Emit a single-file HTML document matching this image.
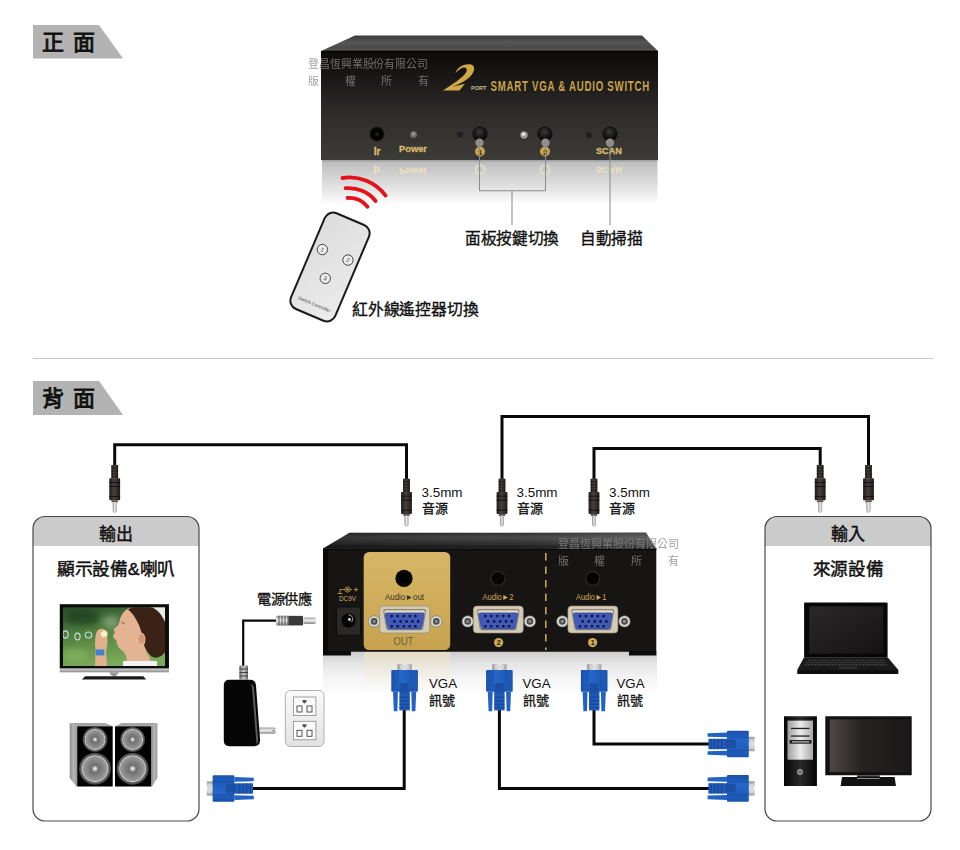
<!DOCTYPE html>
<html lang="zh-TW">
<head>
<meta charset="utf-8">
<style>
html,body{margin:0;padding:0;background:#fff;}
body{width:960px;height:850px;position:relative;overflow:hidden;font-family:"Liberation Sans",sans-serif;}
svg{position:absolute;left:0;top:0;}
text{font-family:"Liberation Sans",sans-serif;}
</style>
</head>
<body>
<svg width="960" height="850" viewBox="0 0 960 850">
<defs>
  <linearGradient id="frontFace" x1="0" y1="0" x2="0" y2="1">
    <stop offset="0" stop-color="#0c0b0a"/>
    <stop offset="0.3" stop-color="#1c1b19"/>
    <stop offset="0.6" stop-color="#2f2e2b"/>
    <stop offset="1" stop-color="#3c3b37"/>
  </linearGradient>
  <linearGradient id="reflectR" x1="0" y1="0" x2="0" y2="1">
    <stop offset="0" stop-color="#cdcdcd"/>
    <stop offset="0.25" stop-color="#e4e4e4"/>
    <stop offset="0.6" stop-color="#f5f5f5"/>
    <stop offset="1" stop-color="#ffffff"/>
  </linearGradient>
  <linearGradient id="topSurf" x1="0" y1="0" x2="0" y2="1">
    <stop offset="0" stop-color="#3a3a3a"/>
    <stop offset="0.45" stop-color="#565656"/>
    <stop offset="0.8" stop-color="#4a4a4a"/>
    <stop offset="0.9" stop-color="#545454"/>
    <stop offset="1" stop-color="#2a2a2a"/>
  </linearGradient>
  <linearGradient id="reflect" x1="0" y1="0" x2="0" y2="1">
    <stop offset="0" stop-color="#9a9a9a"/>
    <stop offset="0.06" stop-color="#c0c0c0"/>
    <stop offset="0.45" stop-color="#d8d8d8"/>
    <stop offset="0.8" stop-color="#f0f0f0"/>
    <stop offset="1" stop-color="#ffffff"/>
  </linearGradient>
  <linearGradient id="reflectEdge" x1="0" y1="0" x2="1" y2="0">
    <stop offset="0" stop-color="#fff" stop-opacity="1"/>
    <stop offset="0.06" stop-color="#fff" stop-opacity="0"/>
    <stop offset="0.94" stop-color="#fff" stop-opacity="0"/>
    <stop offset="1" stop-color="#fff" stop-opacity="1"/>
  </linearGradient>
  <linearGradient id="gold" x1="0" y1="0" x2="0" y2="1">
    <stop offset="0" stop-color="#d6b666"/>
    <stop offset="0.5" stop-color="#cfad5a"/>
    <stop offset="1" stop-color="#c6a250"/>
  </linearGradient>
  <linearGradient id="remoteFill" x1="0" y1="0" x2="1" y2="1">
    <stop offset="0" stop-color="#dcdcdc"/>
    <stop offset="1" stop-color="#ececec"/>
  </linearGradient>
  <linearGradient id="plugBody" x1="0" y1="0" x2="1" y2="0">
    <stop offset="0" stop-color="#1e1a19"/>
    <stop offset="0.45" stop-color="#4a403d"/>
    <stop offset="1" stop-color="#1e1a19"/>
  </linearGradient>
  <linearGradient id="plugTip" x1="0" y1="0" x2="1" y2="0">
    <stop offset="0" stop-color="#8a8a8a"/>
    <stop offset="0.5" stop-color="#f0f0f0"/>
    <stop offset="1" stop-color="#9a9a9a"/>
  </linearGradient>
  <linearGradient id="vgaBlue" x1="0" y1="0" x2="1" y2="0">
    <stop offset="0" stop-color="#1a4fa6"/>
    <stop offset="0.35" stop-color="#2466c8"/>
    <stop offset="1" stop-color="#1b55b0"/>
  </linearGradient>
  <linearGradient id="silver" x1="0" y1="0" x2="1" y2="0">
    <stop offset="0" stop-color="#9a9a9a"/>
    <stop offset="0.5" stop-color="#eeeeee"/>
    <stop offset="1" stop-color="#a0a0a0"/>
  </linearGradient>
  <radialGradient id="screw" cx="0.4" cy="0.4" r="0.6">
    <stop offset="0" stop-color="#f4f4f4"/>
    <stop offset="0.7" stop-color="#cfcfcf"/>
    <stop offset="1" stop-color="#8a8a8a"/>
  </radialGradient>

  <!-- 3.5mm audio plug, origin at center top of ribbed part -->
  <g id="aplug">
    <rect x="-3.4" y="0" width="6.8" height="13.5" fill="url(#plugBody)"/>
    <g stroke="#161212" stroke-width="0.6">
      <line x1="-3.4" y1="3" x2="3.4" y2="3"/>
      <line x1="-3.4" y1="6" x2="3.4" y2="6"/>
      <line x1="-3.4" y1="9" x2="3.4" y2="9"/>
      <line x1="-3.4" y1="12" x2="3.4" y2="12"/>
    </g>
    <rect x="-5.4" y="13.3" width="10.8" height="22" rx="0.8" fill="url(#plugBody)"/>
    <g stroke="#141010" stroke-width="0.9">
      <line x1="-5.4" y1="17.5" x2="5.4" y2="17.5"/>
      <line x1="-5.4" y1="21.5" x2="5.4" y2="21.5"/>
      <line x1="-5.4" y1="31.5" x2="5.4" y2="31.5"/>
    </g>
    <rect x="-3.2" y="35.2" width="6.4" height="2" fill="#555"/>
    <rect x="-2" y="37" width="4" height="9.5" fill="url(#plugTip)"/>
    <path d="M -2,46.5 L 0,48 L 2,46.5 Z" fill="#aaa"/>
  </g>

  <!-- VGA plug, origin at center top (silver end), extends down 47 -->
  <g id="vplug">
    <rect x="-7.2" y="0" width="14.4" height="6.5" fill="url(#silver)"/>
    <rect x="-4.5" y="1.5" width="9" height="3" fill="#d8d8d8"/>
    <rect x="-13.3" y="5.8" width="26.6" height="21.8" rx="1" fill="url(#vgaBlue)"/>
    <path d="M -11.6,27.6 L -6.7,27.6 L -7.2,47 L -10.8,47 Z" fill="#2063c4"/>
    <path d="M 6.7,27.6 L 11.6,27.6 L 10.8,47 L 7.2,47 Z" fill="#2063c4"/>
    <rect x="-5.2" y="19.8" width="10.4" height="26.4" fill="#1f5ab8"/>
    <rect x="-4" y="19" width="8" height="10" fill="#1a4c9e" opacity="0.8"/>
    <g stroke="#17428c" stroke-width="0.9">
      <line x1="-5.2" y1="33" x2="5.2" y2="33"/>
      <line x1="-5.2" y1="36.5" x2="5.2" y2="36.5"/>
      <line x1="-5.2" y1="40" x2="5.2" y2="40"/>
      <line x1="-5.2" y1="43.5" x2="5.2" y2="43.5"/>
    </g>
    <line x1="-6.6" y1="6" x2="-6.6" y2="27.5" stroke="#1a4b9c" stroke-width="0.6"/>
    <line x1="6.6" y1="6" x2="6.6" y2="27.5" stroke="#1a4b9c" stroke-width="0.6"/>
  </g>

  <!-- VGA port on device, origin at center -->
  <g id="vport">
    <circle cx="-30.5" cy="0.9" r="5.7" fill="#d6d6d6" stroke="#6a6a6a" stroke-width="0.6"/>
    <circle cx="-30.5" cy="0.9" r="3.3" fill="#4a4a4a"/>
    <circle cx="-30.5" cy="0.9" r="1.6" fill="#8a8a8a"/>
    <circle cx="31.7" cy="0.9" r="5.7" fill="#d6d6d6" stroke="#6a6a6a" stroke-width="0.6"/>
    <circle cx="31.7" cy="0.9" r="3.3" fill="#4a4a4a"/>
    <circle cx="31.7" cy="0.9" r="1.6" fill="#8a8a8a"/>
    <rect x="-24.9" y="-14.5" width="50" height="27" rx="3.5" fill="#d3cbb5" stroke="#8e8672" stroke-width="0.6"/>
    <path d="M -19.5,-11.5 L 19.5,-11.5 Q 21.8,-11.5 21.3,-9 L 18.6,7.5 Q 18.2,9.8 16,9.8 L -16,9.8 Q -18.2,9.8 -18.6,7.5 L -21.3,-9 Q -21.8,-11.5 -19.5,-11.5 Z" fill="#8c8470"/>
    <path d="M -18.8,-10.3 L 18.8,-10.3 Q 20.6,-10.3 20.2,-8.3 L 17.8,7 Q 17.4,8.8 15.6,8.8 L -15.6,8.8 Q -17.4,8.8 -17.8,7 L -20.2,-8.3 Q -20.6,-10.3 -18.8,-10.3 Z" fill="#e0d9c6"/>
    <path d="M -17.8,-7.6 L 18.2,-7.6 Q 20,-7.6 19.6,-5.8 L 17.4,6.8 Q 17,8.6 15.2,8.6 L -15,8.6 Q -16.8,8.6 -17.2,6.8 L -19.6,-5.8 Q -20,-7.6 -17.8,-7.6 Z" fill="#4159b9" stroke="#2c3d88" stroke-width="0.6"/>
    <g fill="#0e1330">
      <circle cx="-12.9" cy="-4.4" r="1.3"/><circle cx="-6.9" cy="-4.4" r="1.3"/><circle cx="-0.8" cy="-4.4" r="1.3"/><circle cx="5.1" cy="-4.4" r="1.3"/><circle cx="10.8" cy="-4.4" r="1.3"/>
      <circle cx="-10.2" cy="0.9" r="1.3"/><circle cx="-4" cy="0.9" r="1.3"/><circle cx="2" cy="0.9" r="1.3"/><circle cx="7.8" cy="0.9" r="1.3"/><circle cx="13.6" cy="0.9" r="1.3"/>
      <circle cx="-12.9" cy="5.8" r="1.3"/><circle cx="-6.9" cy="5.8" r="1.3"/><circle cx="-0.8" cy="5.8" r="1.3"/><circle cx="5.1" cy="5.8" r="1.3"/><circle cx="10.8" cy="5.8" r="1.3"/>
    </g>
  </g>
  <linearGradient id="plugTipV" x1="0" y1="0" x2="0" y2="1">
    <stop offset="0" stop-color="#9a9a9a"/>
    <stop offset="0.45" stop-color="#f2f2f2"/>
    <stop offset="1" stop-color="#8a8a8a"/>
  </linearGradient>
  <linearGradient id="creamFade" x1="0" y1="0" x2="0" y2="1">
    <stop offset="0" stop-color="#efe3c4" stop-opacity="0.7"/>
    <stop offset="1" stop-color="#f6eed8" stop-opacity="0"/>
  </linearGradient>
  <radialGradient id="btn" cx="0.45" cy="0.35" r="0.65">
    <stop offset="0" stop-color="#3a3a3a"/>
    <stop offset="0.6" stop-color="#161616"/>
    <stop offset="1" stop-color="#050505"/>
  </radialGradient>
  <linearGradient id="topSurfR" x1="0" y1="0" x2="0" y2="1">
    <stop offset="0" stop-color="#2e2e2e"/>
    <stop offset="0.3" stop-color="#484848"/>
    <stop offset="0.7" stop-color="#303030"/>
    <stop offset="1" stop-color="#161616"/>
  </linearGradient>
  <linearGradient id="topSurfRH" x1="0" y1="0" x2="1" y2="0">
    <stop offset="0" stop-color="#000" stop-opacity="0.25"/>
    <stop offset="0.5" stop-color="#000" stop-opacity="0"/>
    <stop offset="0.75" stop-color="#fff" stop-opacity="0.06"/>
    <stop offset="1" stop-color="#fff" stop-opacity="0.14"/>
  </linearGradient>
  <linearGradient id="neckG" x1="0" y1="0" x2="1" y2="0">
    <stop offset="0" stop-color="#6a6a6a"/>
    <stop offset="0.5" stop-color="#c8c8c8"/>
    <stop offset="1" stop-color="#6a6a6a"/>
  </linearGradient>
  <linearGradient id="outletG" x1="0" y1="0" x2="0" y2="1">
    <stop offset="0" stop-color="#fafafa"/>
    <stop offset="1" stop-color="#e2e2e2"/>
  </linearGradient>
</defs>

<!-- headings -->
<polygon points="33,25 99,25 123,58.5 33,58.5" fill="#b3b3b3"/>
<text x="42" y="49.5" font-size="22" fill="#111" stroke="#111" stroke-width="0.9" letter-spacing="9">正面</text>
<polygon points="33,381 99,381 123,415 33,415" fill="#b3b3b3"/>
<text x="42" y="405.5" font-size="22" fill="#111" stroke="#111" stroke-width="0.9" letter-spacing="9">背面</text>

<!-- separator -->
<rect x="33" y="358" width="900" height="1" fill="#c8c8c8"/>

<!-- ===== FRONT DEVICE ===== -->
<rect x="322" y="160" width="335.5" height="45" fill="url(#reflect)"/>
<g opacity="1" font-weight="bold" fill="#efe2bb">
  <text transform="translate(377,165.8) scale(1,-1)" font-size="10" text-anchor="middle" y="0">Ir</text>
  <text transform="translate(413,168.3) scale(1,-1)" font-size="9.5" text-anchor="middle" y="0" textLength="28" lengthAdjust="spacingAndGlyphs">Power</text>
  <text transform="translate(609,166.8) scale(1,-1)" font-size="9.5" text-anchor="middle" y="0" textLength="26" lengthAdjust="spacingAndGlyphs">SCAN</text>
  <circle cx="480" cy="169.5" r="4.5" fill="none" stroke="#efe2bb" stroke-width="1.5"/>
  <circle cx="545" cy="169.5" r="4.5" fill="none" stroke="#efe2bb" stroke-width="1.5"/>
</g>
<polygon points="355,35.6 642,35.6 658,51 321,51" fill="url(#topSurf)"/>
<rect x="321" y="51" width="337" height="109" fill="url(#frontFace)"/>
<rect x="321" y="51" width="337" height="1.2" fill="#050505"/>

<!-- logo -->
<path d="M 455.5,73 C 457.5,66.5 464.5,63.5 470.5,64.3 C 476,65.5 475,72.5 469.5,77.2 C 463,82.5 455,86 450.5,87.2 L 465,83.8 L 459.5,90.6 L 443,90.6 C 452,84.5 461.5,78.5 465.2,73.8 C 468,70 466.8,67 463.5,67.6 C 460.5,68.3 458,70.8 455.5,73 Z" fill="#d0a845"/>
<text x="471" y="90" font-size="5.5" font-weight="bold" fill="#cdbb8e" textLength="15.5" lengthAdjust="spacingAndGlyphs">PORT</text>
<text transform="translate(490.5,90.5) scale(0.69,1)" font-size="14" font-weight="bold" fill="#c9a24a" textLength="230" lengthAdjust="spacing">SMART VGA &amp; AUDIO SWITCH</text>

<!-- ir jack / leds / buttons -->
<circle cx="377" cy="134" r="7.2" fill="#030303" stroke="#2a2725" stroke-width="0.8"/>
<circle cx="377" cy="134" r="2" fill="#1c1c1c"/>
<circle cx="413.5" cy="134.5" r="3.5" fill="#6a6a6a"/>
<circle cx="413.5" cy="134" r="1.6" fill="#a0a0a0"/>
<circle cx="460" cy="134.5" r="3.5" fill="#1f1f1f" stroke="#3a3a3a" stroke-width="0.6"/>
<circle cx="480" cy="134" r="7.1" fill="url(#btn)" stroke="#0a0a0a" stroke-width="0.8"/>
<circle cx="524" cy="135" r="3.7" fill="#9a9a9a"/>
<circle cx="523.5" cy="134.3" r="1.8" fill="#e4e4e4"/>
<circle cx="545" cy="134" r="7.1" fill="url(#btn)" stroke="#0a0a0a" stroke-width="0.8"/>
<circle cx="589" cy="135" r="3.5" fill="#1f1f1f" stroke="#3a3a3a" stroke-width="0.6"/>
<circle cx="610" cy="134" r="7.1" fill="url(#btn)" stroke="#0a0a0a" stroke-width="0.8"/>

<text x="377" y="154.6" font-size="10" font-weight="bold" fill="#d8bc6c" stroke="#d8bc6c" stroke-width="0.3" text-anchor="middle">Ir</text>
<text x="413" y="152.2" font-size="9.5" font-weight="bold" fill="#d8bc6c" stroke="#d8bc6c" stroke-width="0.3" text-anchor="middle" textLength="28" lengthAdjust="spacingAndGlyphs">Power</text>
<text x="609" y="154.3" font-size="9.5" font-weight="bold" fill="#d8bc6c" stroke="#d8bc6c" stroke-width="0.3" text-anchor="middle" textLength="26" lengthAdjust="spacingAndGlyphs">SCAN</text>
<circle cx="480" cy="151.5" r="5" fill="#c9a24a"/>
<circle cx="545" cy="151.5" r="5" fill="#c9a24a"/>
<text x="480" y="154.5" font-size="7.5" font-weight="bold" fill="#2a2418" text-anchor="middle">1</text>
<text x="545" y="154.5" font-size="7.5" font-weight="bold" fill="#2a2418" text-anchor="middle">2</text>

<!-- watermark front -->
<g fill="#868686" opacity="0.79" font-size="11">
  <text x="308" y="68" textLength="120" lengthAdjust="spacingAndGlyphs">登昌恆興業股份有限公司</text>
  <text x="308" y="85">版</text>
  <text x="345" y="85">權</text>
  <text x="381" y="85">所</text>
  <text x="418" y="85">有</text>
</g>

<!-- callout lines -->
<g stroke="#8e8e8e" stroke-width="1.05" fill="none">
  <polyline points="479.5,143 479.5,190.8 545.5,190.8 545.5,143"/>
  <line x1="512" y1="190.8" x2="512" y2="225"/>
  <line x1="610" y1="143" x2="610" y2="225"/>
</g>
<circle cx="479.5" cy="142.8" r="4.2" fill="#8e8e8e"/>
<circle cx="545.5" cy="142.8" r="4.2" fill="#8e8e8e"/>
<circle cx="610" cy="142.8" r="4.2" fill="#8e8e8e"/>

<text x="465" y="244" font-size="16" fill="#111" stroke="#111" stroke-width="0.35" textLength="94" lengthAdjust="spacingAndGlyphs">面板按鍵切換</text>
<text x="580" y="244" font-size="16" fill="#111" stroke="#111" stroke-width="0.35" textLength="62.5" lengthAdjust="spacingAndGlyphs">自動掃描</text>

<!-- remote -->
<g fill="none" stroke="#e3121b" stroke-width="3.8" stroke-linecap="round">
  <path d="M 342.5,178 A 45 45 0 0 1 385.6,195.6"/>
  <path d="M 345.6,188.2 A 34 34 0 0 1 375.6,201"/>
  <path d="M 347.5,198 A 24 24 0 0 1 367.5,206.7"/>
</g>
<g transform="translate(330,267) rotate(23)">
  <rect x="-24" y="-52" width="48" height="104" rx="9" fill="url(#remoteFill)" stroke="#1a1a1a" stroke-width="2"/>
  <g fill="#ececec" stroke="#333" stroke-width="0.8">
    <circle cx="-13.8" cy="-13.1" r="5.2"/>
    <circle cx="13.8" cy="-13.4" r="5.2"/>
    <circle cx="0.1" cy="12.3" r="5.2"/>
  </g>
  <g font-size="5.5" fill="#333" text-anchor="middle">
    <text x="-13.8" y="-11.1">1</text>
    <text x="13.8" y="-11.4">2</text>
    <text x="0.1" y="14.3">3</text>
  </g>
  <text x="0" y="42" font-size="4.6" fill="#444" text-anchor="middle">Switch Controller</text>
</g>
<text x="352" y="315" font-size="16" fill="#111" stroke="#111" stroke-width="0.35" textLength="126.5" lengthAdjust="spacingAndGlyphs">紅外線遙控器切換</text>

<!-- ===== REAR ===== -->
<!-- boxes -->
<rect x="33" y="516.5" width="166" height="304.5" rx="12" fill="#fff"/>
<path d="M 33,546 L 33,528.5 A 12 12 0 0 1 45,516.5 L 187,516.5 A 12 12 0 0 1 199,528.5 L 199,546 Z" fill="#cbcbcb"/>
<rect x="33" y="516.5" width="166" height="304.5" rx="12" fill="none" stroke="#4a4a4a" stroke-width="1.2"/>
<rect x="765" y="516.5" width="166" height="304.5" rx="12" fill="#fff"/>
<path d="M 765,546 L 765,528.5 A 12 12 0 0 1 777,516.5 L 919,516.5 A 12 12 0 0 1 931,528.5 L 931,546 Z" fill="#cbcbcb"/>
<rect x="765" y="516.5" width="166" height="304.5" rx="12" fill="none" stroke="#4a4a4a" stroke-width="1.2"/>

<g font-size="17" fill="#111" stroke="#111" stroke-width="0.45" text-anchor="middle">
  <text x="116" y="539.5">輸出</text>
  <text x="116" y="574.6" textLength="118.5" lengthAdjust="spacingAndGlyphs">顯示設備&amp;喇叭</text>
  <text x="848" y="539.5">輸入</text>
  <text x="848" y="574.6" textLength="70.5" lengthAdjust="spacingAndGlyphs">來源設備</text>
</g>

<!-- audio cables -->
<g stroke="#080808" stroke-width="3" fill="none" stroke-linejoin="miter">
  <polyline points="114.7,466 114.7,444.7 406.5,444.7 406.5,480"/>
  <polyline points="502,480 502,416.5 868.5,416.5 868.5,466"/>
  <polyline points="594,480 594,448.6 820.2,448.6 820.2,466"/>
</g>
<!-- vga cables -->
<g stroke="#080808" stroke-width="3" fill="none">
  <polyline points="404.2,708 404.2,788.5 252,788.5"/>
  <polyline points="499.4,708 499.4,788.5 710,788.5"/>
  <polyline points="594,708 594,744 710,744"/>
</g>

<!-- audio plugs -->
<use href="#aplug" x="114.7" y="465"/>
<use href="#aplug" x="820.2" y="465"/>
<use href="#aplug" x="868.5" y="465"/>
<use href="#aplug" x="406.5" y="478.7"/>
<use href="#aplug" x="502" y="478.7"/>
<use href="#aplug" x="594" y="478.7"/>

<g font-size="13" fill="#111">
  <text x="421.5" y="497" textLength="41" lengthAdjust="spacingAndGlyphs">3.5mm</text>
  <text x="516.5" y="497" textLength="41" lengthAdjust="spacingAndGlyphs">3.5mm</text>
  <text x="609" y="497" textLength="41" lengthAdjust="spacingAndGlyphs">3.5mm</text>
</g>
<g font-size="13" fill="#111" stroke="#111" stroke-width="0.3">
  <text x="421.5" y="512.5">音源</text>
  <text x="516.5" y="512.5">音源</text>
  <text x="609" y="512.5">音源</text>
</g>

<!-- rear device reflection -->
<rect x="323" y="652" width="334" height="44" fill="url(#reflectR)"/>
<rect x="364" y="652" width="86" height="40" fill="url(#creamFade)"/>

<!-- rear device -->
<polygon points="349.5,532.8 646,532.6 656.3,548.5 323,548.5" fill="url(#topSurfR)"/>
<polygon points="349.5,532.8 646,532.6 656.3,548.5 323,548.5" fill="url(#topSurfRH)"/>
<rect x="323" y="548.5" width="333.3" height="103.3" fill="#171513"/>
<rect x="323" y="548.5" width="333.3" height="1.5" fill="#060606"/>
<rect x="323" y="651" width="28" height="4.5" fill="#0c0c0c"/>
<rect x="629" y="651" width="27.3" height="4.5" fill="#0c0c0c"/>
<rect x="363.7" y="552" width="86.5" height="98" rx="5.5" fill="url(#gold)"/>

<!-- jacks -->
<circle cx="404" cy="578.4" r="8.6" fill="#090807"/>
<circle cx="404" cy="578.4" r="5" fill="#000"/>
<circle cx="498" cy="578.4" r="7" fill="#060505" stroke="#2e2b28" stroke-width="1.2"/>
<circle cx="592.6" cy="578.4" r="7" fill="#060505" stroke="#2e2b28" stroke-width="1.2"/>

<g font-size="8.5">
  <text x="385" y="600" fill="#3a3222" textLength="39" lengthAdjust="spacingAndGlyphs">Audio►out</text>
  <text x="482.5" y="600" fill="#d0aa55" textLength="31" lengthAdjust="spacingAndGlyphs">Audio►2</text>
  <text x="576" y="600" fill="#d0aa55" textLength="30.5" lengthAdjust="spacingAndGlyphs">Audio►1</text>
</g>

<use href="#vport" x="404.6" y="620.5"/>
<use href="#vport" x="498.2" y="620.5"/>
<use href="#vport" x="592.8" y="620.5"/>

<text x="403.6" y="645.3" font-size="10.5" fill="#6e5c38" text-anchor="middle" textLength="20" lengthAdjust="spacingAndGlyphs">OUT</text>
<circle cx="498.6" cy="642.6" r="4.6" fill="#d0aa55"/>
<circle cx="592.6" cy="642.6" r="4.6" fill="#d0aa55"/>
<text x="498.6" y="645.3" font-size="7" font-weight="bold" fill="#1c1810" text-anchor="middle">2</text>
<text x="592.6" y="645.3" font-size="7" font-weight="bold" fill="#1c1810" text-anchor="middle">1</text>

<line x1="545.8" y1="553" x2="545.8" y2="650" stroke="#c9a24c" stroke-width="1.6" stroke-dasharray="7.5,6"/>

<!-- DC jack -->
<rect x="323" y="550" width="5" height="101" fill="#0a0909"/>
<rect x="336.4" y="607" width="24.1" height="28.2" fill="#2a2928" stroke="#0c0c0c" stroke-width="1"/>
<circle cx="348.6" cy="620.5" r="7.2" fill="#050505"/>
<path d="M 348.5,614.8 A 4.2 4.2 0 0 1 351.5,622" stroke="#cfcfcf" stroke-width="0.8" fill="none"/>
<circle cx="349.4" cy="619.5" r="1.4" fill="#e8e8e8"/>
<g stroke="#c9a24c" stroke-width="0.8" fill="none">
  <circle cx="347.5" cy="589.5" r="2.6"/>
  <line x1="340" y1="589.5" x2="344.9" y2="589.5"/>
  <line x1="340" y1="589.5" x2="340" y2="593.5"/>
  <line x1="337.5" y1="593.5" x2="342.5" y2="593.5"/>
  <line x1="350.1" y1="589.5" x2="352" y2="589.5"/>
  <line x1="354" y1="589.5" x2="358" y2="589.5"/>
  <line x1="356" y1="587.5" x2="356" y2="591.5"/>
</g>
<circle cx="347.5" cy="589.5" r="1.3" fill="#c9a24c"/>
<text x="339" y="600.5" font-size="6.5" fill="#d2b070" textLength="17" lengthAdjust="spacingAndGlyphs">DC9V</text>

<!-- watermark rear -->
<g fill="#868686" opacity="0.79" font-size="11">
  <text x="557.5" y="547.5" textLength="121" lengthAdjust="spacingAndGlyphs">登昌恆興業股份有限公司</text>
  <text x="558" y="565">版</text>
  <text x="594" y="565">權</text>
  <text x="631" y="565">所</text>
  <text x="668" y="565">有</text>
</g>

<!-- VGA plugs vertical -->
<use href="#vplug" x="404.6" y="664.2"/>
<use href="#vplug" x="499.4" y="664.2"/>
<use href="#vplug" x="594.2" y="664.2"/>
<g font-size="13.3" fill="#111">
  <text x="429" y="688">VGA</text>
  <text x="522.5" y="688">VGA</text>
  <text x="616.5" y="688">VGA</text>
</g>
<g font-size="13" fill="#111" stroke="#111" stroke-width="0.3">
  <text x="429" y="705">訊號</text>
  <text x="522.5" y="705">訊號</text>
  <text x="616.5" y="705">訊號</text>
</g>
<!-- VGA plugs horizontal -->
<g transform="translate(754.6,744) rotate(90)"><use href="#vplug"/></g>
<g transform="translate(754.6,788.4) rotate(90)"><use href="#vplug"/></g>
<g transform="translate(206.8,788.5) rotate(-90)"><use href="#vplug"/></g>

<!-- power adapter -->
<text x="257" y="604" font-size="13.5" fill="#111" stroke="#111" stroke-width="0.3" textLength="54.5" lengthAdjust="spacingAndGlyphs">電源供應</text>
<polyline points="277,620.6 243.2,620.6 243.2,668" stroke="#080808" stroke-width="2.2" fill="none"/>
<rect x="276" y="615.7" width="27" height="9.8" rx="1" fill="url(#plugTipV)"/>
<g stroke="#333" stroke-width="0.8">
  <line x1="279" y1="615.7" x2="279" y2="625.5"/><line x1="282" y1="615.7" x2="282" y2="625.5"/><line x1="285" y1="615.7" x2="285" y2="625.5"/><line x1="288" y1="615.7" x2="288" y2="625.5"/>
</g>
<rect x="288.5" y="616" width="14.5" height="9.2" fill="#3a3a3a"/>
<rect x="303" y="617.4" width="13" height="6.5" rx="2" fill="url(#plugTipV)"/>
<rect x="239.4" y="665.6" width="8.6" height="14" fill="url(#neckG)"/>
<g stroke="#333" stroke-width="0.9">
  <line x1="239.4" y1="669" x2="248" y2="669"/><line x1="239.4" y1="672.5" x2="248" y2="672.5"/><line x1="239.4" y1="676" x2="248" y2="676"/>
</g>
<path d="M 259,727.5 L 274,727.5 Q 276.3,727.5 276.3,730.6 Q 276.3,733.8 274,733.8 L 259,733.8 Z" fill="url(#plugTipV)"/>
<circle cx="273.5" cy="730.6" r="0.9" fill="#666"/>
<path d="M 229.5,679.8 L 250,679.8 Q 255.6,679.8 256,685.5 L 260,739.5 Q 260.4,746.2 254,746.2 L 229.5,746.2 Q 223.8,746.2 223.8,740.5 L 223.8,685.5 Q 223.8,679.8 229.5,679.8 Z" fill="#050505"/>
<path d="M 250.5,684 Q 253.5,684.5 254,688 L 258.2,740 Q 258.3,743 256.5,744 L 252,688 Q 251.8,685.5 250.5,684 Z" fill="#6a6a6a" opacity="0.85"/>
<!-- outlet -->
<rect x="285.3" y="690.5" width="38.7" height="56" rx="5" fill="url(#outletG)" stroke="#b0b0b0" stroke-width="1"/>
<g fill="#fbfbfb" stroke="#8a8a8a" stroke-width="0.8">
  <rect x="293.4" y="697" width="22.5" height="18.4"/>
  <rect x="293.4" y="721.3" width="22.5" height="18.5"/>
</g>
<g fill="none" stroke="#444" stroke-width="0.9">
  <rect x="297" y="706" width="5" height="6"/><rect x="307" y="706" width="5" height="6"/>
  <rect x="297" y="730.3" width="5" height="6"/><rect x="307" y="730.3" width="5" height="6"/>
</g>
<g fill="#555">
  <path d="M 302.5,700 h4 v2 l-2,1.5 l-2,-1.5 z"/>
  <path d="M 302.5,724.3 h4 v2 l-2,1.5 l-2,-1.5 z"/>
</g>
<!-- TV -->
<defs>
  <linearGradient id="tvBg" x1="0" y1="0" x2="0.3" y2="1">
    <stop offset="0" stop-color="#2c4f2a"/>
    <stop offset="0.45" stop-color="#4f7f3f"/>
    <stop offset="1" stop-color="#7aab58"/>
  </linearGradient>
  <linearGradient id="tvSilver" x1="0" y1="0" x2="0" y2="1">
    <stop offset="0" stop-color="#d8d8d8"/>
    <stop offset="1" stop-color="#8a8a8a"/>
  </linearGradient>
  <linearGradient id="spkSide" x1="0" y1="0" x2="1" y2="0">
    <stop offset="0" stop-color="#8c8c8c"/>
    <stop offset="0.5" stop-color="#b4b4b4"/>
    <stop offset="1" stop-color="#9a9a9a"/>
  </linearGradient>
  <radialGradient id="cone" cx="0.5" cy="0.5" r="0.5">
    <stop offset="0" stop-color="#f6f6f6"/>
    <stop offset="0.12" stop-color="#b8b8b8"/>
    <stop offset="0.22" stop-color="#6e6e6e"/>
    <stop offset="0.6" stop-color="#8c8c8c"/>
    <stop offset="0.76" stop-color="#9c9c9c"/>
    <stop offset="0.8" stop-color="#d4d4d4"/>
    <stop offset="0.85" stop-color="#707070"/>
    <stop offset="1" stop-color="#3c3c3c"/>
  </radialGradient>
  <linearGradient id="lapScreen" x1="0" y1="0" x2="1" y2="1">
    <stop offset="0" stop-color="#2a2828"/>
    <stop offset="1" stop-color="#141212"/>
  </linearGradient>
  <linearGradient id="monScreen" x1="0" y1="0" x2="1" y2="0">
    <stop offset="0" stop-color="#4e4846"/>
    <stop offset="0.4" stop-color="#252222"/>
    <stop offset="1" stop-color="#1a1818"/>
  </linearGradient>
  <linearGradient id="towerBody" x1="0" y1="0" x2="1" y2="0">
    <stop offset="0" stop-color="#050505"/>
    <stop offset="0.5" stop-color="#2a2a2a"/>
    <stop offset="1" stop-color="#050505"/>
  </linearGradient>
  <linearGradient id="towerPanel" x1="0" y1="0" x2="1" y2="0">
    <stop offset="0" stop-color="#9c9c9c"/>
    <stop offset="0.5" stop-color="#ececec"/>
    <stop offset="1" stop-color="#a8a8a8"/>
  </linearGradient>
</defs>
<rect x="59.75" y="604.2" width="109.2" height="64.6" fill="#0c0c0c"/>
<rect x="59.75" y="668.5" width="109.2" height="3.8" fill="url(#tvSilver)"/>
<clipPath id="tvClip"><rect x="62.9" y="607.2" width="102.2" height="58.9"/></clipPath>
<filter id="soft" x="-5%" y="-5%" width="110%" height="110%"><feGaussianBlur stdDeviation="0.5"/></filter>
<filter id="blurBg" x="-20%" y="-20%" width="140%" height="140%"><feGaussianBlur stdDeviation="3"/></filter>
<g clip-path="url(#tvClip)">
<rect x="62.9" y="607.2" width="102.2" height="58.9" fill="url(#tvBg)"/>
<g filter="url(#blurBg)">
<ellipse cx="82" cy="617" rx="18" ry="8" fill="#1d3a1b" opacity="0.7"/>
<ellipse cx="111" cy="622" rx="8" ry="6" fill="#a3b89c" opacity="0.6"/>
<ellipse cx="75" cy="655" rx="14" ry="6" fill="#8cbc64" opacity="0.6"/>
</g>
<g filter="url(#soft)">
<rect x="150" y="607.2" width="15.1" height="17" fill="#e6ebe4"/>
<path d="M 129,608 C 123,611 120,617 119.5,622 C 118,626 115.5,628 113.3,629.5 L 115,632.5 C 113.5,634 112.8,636 113.4,637.6 C 114.3,639 115.8,639.2 116.5,640 C 116.3,643.5 117.5,646.5 120,648.5 C 123,651 125.5,653.5 126.5,657.5 L 127,666.1 L 152,666.1 C 151,660 148,655 146,651 L 146,620 C 140,610 134,607 129,608 Z" fill="#e4b394"/>
<path d="M 128,609.5 C 131,607.5 133,607.2 136,607.2 L 152,607.2 C 158,610 162,615 165.1,622 L 165.1,652 C 161,658 155,659 151,656 C 147,652 145,648 144,645 C 146.5,641 146,634 141.5,632.5 C 139,624 135,615 128,609.5 Z" fill="#3a2418"/>
<ellipse cx="141.5" cy="639" rx="3" ry="5" fill="#d39878"/>
<path d="M 121,622 L 125,624" stroke="#6a4a3a" stroke-width="0.8"/>
<rect x="123" y="661" width="34" height="5.1" fill="#f2f2f2"/>
<path d="M 95,666.1 L 95.5,650 C 94.5,642 95,636 97,631 C 100,628 104,628 106,631 C 108,637 108,645 106,651 L 107,666.1 Z" fill="#e2b090"/>
<rect x="95.8" y="649.5" width="8.5" height="6" fill="#3f82d2"/>
<g fill="none" stroke="#dfe6f0" stroke-width="1.1" opacity="0.9">
  <ellipse cx="65.5" cy="634.5" rx="2.6" ry="3.6"/>
  <ellipse cx="77.5" cy="636.5" rx="2.6" ry="3.4"/>
  <ellipse cx="88.5" cy="635" rx="3.2" ry="3"/>
</g>
<circle cx="104" cy="634" r="3.6" fill="#f2efe2" stroke="#e0c040" stroke-width="0.8"/>
</g>
</g>
<path d="M 108.9,672.3 L 119,672.3 L 116,676.3 L 112,676.3 Z" fill="#9a9a9a"/>
<path d="M 85.2,676.2 L 143.4,676.2 L 146.1,679.6 L 81.8,679.6 Z" fill="#1a1a1a"/>

<!-- speakers -->
<polygon points="69.7,722.9 105.3,722.9 112.7,726.3 77.2,726.3" fill="#a6a6a6"/>
<polygon points="69.7,722.9 77.2,726.3 77.2,786.5 76.3,786.5 69.7,778" fill="url(#spkSide)"/>
<rect x="77.2" y="726.3" width="35.5" height="60.2" fill="#000"/>
<circle cx="95" cy="739.5" r="12.4" fill="url(#cone)"/>
<circle cx="95" cy="768.7" r="16" fill="url(#cone)"/>
<polygon points="121.9,722.9 157.4,722.9 151.1,726.3 115,726.3" fill="#a6a6a6"/>
<polygon points="151.1,726.3 157.4,722.9 157.4,778 152,786.5 151.1,786.5" fill="url(#spkSide)"/>
<rect x="115" y="726.3" width="36.1" height="60.2" fill="#000"/>
<circle cx="132.6" cy="739.5" r="12.4" fill="url(#cone)"/>
<circle cx="132.6" cy="768.7" r="16" fill="url(#cone)"/>

<!-- laptop -->
<rect x="804.1" y="602.4" width="83.5" height="55" rx="1" fill="#070707"/>
<rect x="809.2" y="606.4" width="74.2" height="47.3" fill="url(#lapScreen)"/>
<path d="M 804.1,657.3 L 887.6,657.3 L 898.4,669.9 L 797.2,669.9 Z" fill="#1a1a1a"/>
<g stroke="#3e3e3e" stroke-width="1.4" stroke-dasharray="2.1,0.9" fill="none">
  <line x1="808" y1="660.4" x2="884" y2="660.4"/>
  <line x1="806.5" y1="662.6" x2="885.5" y2="662.6"/>
  <line x1="805" y1="664.8" x2="887" y2="664.8"/>
</g>
<rect x="838.5" y="666.5" width="18.5" height="2.5" fill="#2e2e2e"/>
<rect x="797.2" y="669.9" width="101.2" height="4.2" rx="0.8" fill="#0e0e0e"/>

<!-- tower -->
<rect x="784" y="716.25" width="32.9" height="69.75" fill="url(#towerBody)"/>
<rect x="787.5" y="720.6" width="25.5" height="39.1" fill="url(#towerPanel)"/>
<g fill="#222">
  <rect x="791" y="727.8" width="18.5" height="1.3"/>
  <rect x="791" y="735.4" width="18.5" height="1.3"/>
  <rect x="789.5" y="740" width="22" height="3.7"/>
</g>
<rect x="792" y="741" width="17" height="1.6" fill="#9a9a9a"/>
<circle cx="800" cy="771.9" r="2.8" fill="#777" stroke="#aaa" stroke-width="0.6"/>

<!-- monitor -->
<rect x="825.3" y="716.25" width="86.4" height="59" fill="#111"/>
<rect x="829.7" y="719.4" width="79.7" height="52.8" fill="url(#monScreen)"/>
<rect x="857" y="775.3" width="22.7" height="2.5" fill="#2a2a2a"/>
<path d="M 842,776.9 L 894.6,776.9 L 896,786 L 840.6,786 Z" fill="#111"/>
<rect x="857" y="778" width="22.7" height="1" fill="#8a8a8a"/>


</svg>
</body>
</html>
